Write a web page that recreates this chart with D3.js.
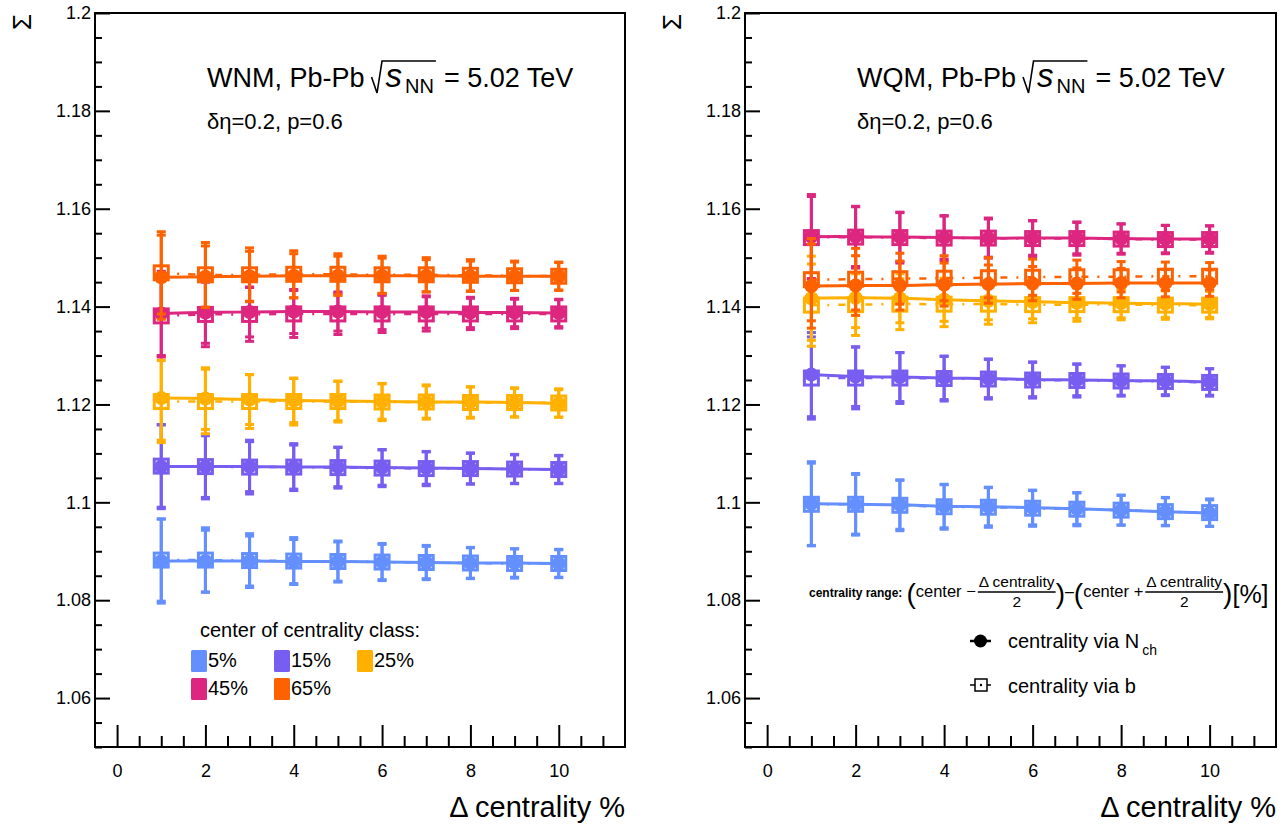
<!DOCTYPE html>
<html>
<head>
<meta charset="utf-8">
<title>Sigma vs delta centrality</title>
<script src="https://cdn.jsdelivr.net/npm/d3@7"></script>
<style>
  body { margin: 0; background: #fff; }
  svg { font-family: "Liberation Sans", Arial, Helvetica, sans-serif; }
</style>
</head>
<body>
<svg id="chart" width="1286" height="825"></svg>
<script>
// width of the centrality class, %
const deltaCentrality = [1, 2, 3, 4, 5, 6, 7, 8, 9, 10];
const centerLabels = ["5%", "15%", "25%", "45%", "65%"];
const centerColors = ["#648fff", "#785ef0", "#ffb000", "#dc267f", "#fe6100"];
const yMajorTicks = [1.06, 1.08, 1.1, 1.12, 1.14, 1.16, 1.18, 1.2];
const xMajorTicks = [0, 2, 4, 6, 8, 10];

// WNM: centrality via Nch and via b
const wnmNch5  = [1.0880, 1.0880, 1.0880, 1.0879, 1.0879, 1.0878, 1.0877, 1.0876, 1.0876, 1.0875];
const wnmB5    = [1.0882, 1.0882, 1.0881, 1.0880, 1.0879, 1.0878, 1.0877, 1.0876, 1.0875, 1.0875];
const wnmNch15 = [1.1073, 1.1073, 1.1073, 1.1072, 1.1072, 1.1071, 1.1070, 1.1069, 1.1068, 1.1067];
const wnmB15   = [1.1074, 1.1073, 1.1072, 1.1072, 1.1071, 1.1070, 1.1069, 1.1069, 1.1068, 1.1067];
const wnmNch25 = [1.1213, 1.1212, 1.1210, 1.1208, 1.1207, 1.1206, 1.1205, 1.1205, 1.1204, 1.1202];
const wnmB25   = [1.1206, 1.1206, 1.1206, 1.1206, 1.1206, 1.1205, 1.1205, 1.1204, 1.1204, 1.1203];
const wnmNch45 = [1.1386, 1.1388, 1.1389, 1.1390, 1.1390, 1.1389, 1.1389, 1.1388, 1.1388, 1.1387];
const wnmB45   = [1.1381, 1.1384, 1.1384, 1.1385, 1.1385, 1.1385, 1.1385, 1.1385, 1.1385, 1.1385];
const wnmNch65 = [1.1460, 1.1461, 1.1462, 1.1463, 1.1463, 1.1463, 1.1463, 1.1462, 1.1462, 1.1462];
const wnmB65   = [1.1469, 1.1465, 1.1465, 1.1466, 1.1466, 1.1465, 1.1465, 1.1464, 1.1463, 1.1462];
const wnmErrNch = [0.0086, 0.0063, 0.0051, 0.0045, 0.0040, 0.0036, 0.0033, 0.0031, 0.0029, 0.0028];
const wnmErrB   = [0.0084, 0.0066, 0.0055, 0.0048, 0.0042, 0.0038, 0.0035, 0.0032, 0.0030, 0.0029];

// WQM: centrality via Nch and via b
const wqmNch5  = [1.0997, 1.0996, 1.0995, 1.0992, 1.0991, 1.0989, 1.0987, 1.0984, 1.0981, 1.0978];
const wqmB5    = [1.0996, 1.0996, 1.0994, 1.0991, 1.0990, 1.0988, 1.0986, 1.0984, 1.0981, 1.0979];
const wqmNch15 = [1.1261, 1.1257, 1.1256, 1.1254, 1.1253, 1.1251, 1.1250, 1.1249, 1.1248, 1.1246];
const wqmB15   = [1.1254, 1.1254, 1.1254, 1.1253, 1.1252, 1.1250, 1.1249, 1.1248, 1.1247, 1.1245];
const wqmNch25 = [1.1417, 1.1418, 1.1417, 1.1414, 1.1412, 1.1410, 1.1408, 1.1407, 1.1406, 1.1405];
const wqmB25   = [1.1403, 1.1404, 1.1405, 1.1405, 1.1405, 1.1404, 1.1404, 1.1404, 1.1403, 1.1403];
const wqmNch45 = [1.1543, 1.1543, 1.1542, 1.1541, 1.1540, 1.1540, 1.1540, 1.1539, 1.1538, 1.1538];
const wqmB45   = [1.1541, 1.1542, 1.1541, 1.1540, 1.1540, 1.1539, 1.1539, 1.1538, 1.1537, 1.1537];
const wqmNch65 = [1.1442, 1.1443, 1.1443, 1.1445, 1.1446, 1.1447, 1.1447, 1.1448, 1.1448, 1.1448];
const wqmB65   = [1.1455, 1.1456, 1.1457, 1.1458, 1.1459, 1.1460, 1.1461, 1.1461, 1.1462, 1.1462];
const wqmErrNch = [0.0086, 0.0061, 0.0050, 0.0044, 0.0039, 0.0035, 0.0032, 0.0030, 0.0028, 0.0027];
const wqmErrB   = [0.0084, 0.0063, 0.0052, 0.0046, 0.0041, 0.0037, 0.0034, 0.0031, 0.0029, 0.0028];

const svg = d3.select("#chart");
const yTop = 13, yBottom = 747;
const y = d3.scaleLinear().domain([1.05, 1.2]).range([yBottom, yTop]);

function styleAxis(sel, fontSize) {
  sel.attr("font-family", null).attr("font-size", fontSize);
  sel.select(".domain").remove();
  sel.selectAll(".tick line").attr("stroke", "#000").attr("stroke-width", 2);
  sel.selectAll(".tick text").attr("fill", "#000");
}

function drawPanel(left, right, model, nch, b, errNch, errB) {
  const x = d3.scaleLinear().domain([-0.5, 11.5]).range([left, right]);
  const g = svg.append("g");

  // y axis, ticks pointing inward
  const yMinor = d3.range(1.05, 1.2001, 0.005)
    .filter(v => !yMajorTicks.some(t => Math.abs(t - v) < 1e-6));
  g.append("g").attr("transform", `translate(${left},0)`)
    .call(d3.axisLeft(y).tickValues(yMinor).tickSize(-7).tickFormat(""))
    .call(s => styleAxis(s, 18));
  g.append("g").attr("transform", `translate(${left},0)`)
    .call(d3.axisLeft(y).tickValues(yMajorTicks).tickSize(-15).tickPadding(4)
      .tickFormat(d => +d.toFixed(2)))
    .call(s => styleAxis(s, 18));

  // x axis
  const xMinor = d3.range(0.5, 11.5, 0.5).filter(v => v % 2 !== 0);
  g.append("g").attr("transform", `translate(0,${yBottom})`)
    .call(d3.axisBottom(x).tickValues(xMinor).tickSize(-11).tickFormat(""))
    .call(s => styleAxis(s, 18));
  g.append("g").attr("transform", `translate(0,${yBottom})`)
    .call(d3.axisBottom(x).tickValues(xMajorTicks).tickSize(-22).tickPadding(17))
    .call(s => styleAxis(s, 18));

  g.append("rect")
    .attr("x", left).attr("y", yTop)
    .attr("width", right - left).attr("height", yBottom - yTop)
    .attr("fill", "none").attr("stroke", "#000").attr("stroke-width", 2);

  // axis titles
  g.append("text")
    .attr("x", right).attr("y", 817)
    .attr("text-anchor", "end").attr("font-size", 29)
    .text("\u0394 centrality %");
  g.append("text")
    .attr("transform", `translate(${left - 73},22) rotate(-90)`)
    .attr("text-anchor", "middle").attr("dominant-baseline", "central")
    .attr("font-size", 26)
    .text("\u03a3");

  // title
  const tx = left + 112, tBase = 87;
  const t1 = g.append("text").attr("x", tx).attr("y", tBase)
    .attr("font-size", 27).text(`${model}, Pb-Pb`);
  const sx = tx + t1.node().getComputedTextLength() + 7;
  const ts = g.append("text").attr("x", sx + 14).attr("y", tBase)
    .attr("font-size", 33).attr("font-style", "italic").text("s");
  const nnX = sx + 14 + ts.node().getComputedTextLength() + 3;
  const tnn = g.append("text").attr("x", nnX).attr("y", tBase + 6)
    .attr("font-size", 20).text("NN");
  const barEnd = nnX + tnn.node().getComputedTextLength() + 2;
  g.append("path")
    .attr("d", `M${sx},${tBase - 10} L${sx + 5.5},${tBase + 6} L${sx + 10.5},${tBase - 26} H${barEnd}`)
    .attr("fill", "none").attr("stroke", "#000").attr("stroke-width", 1.6);
  g.append("text").attr("x", barEnd + 8).attr("y", tBase)
    .attr("font-size", 27).text("= 5.02 TeV");
  g.append("text").attr("x", tx).attr("y", 129)
    .attr("font-size", 22).text("\u03b4\u03b7=0.2, p=0.6");

  // data
  const line = d3.line()
    .x((d, j) => x(deltaCentrality[j]))
    .y(d => y(d))
    .curve(d3.curveCatmullRom);

  const plot = g.append("g");
  nch.forEach((vals, i) => {
    const color = centerColors[i];
    const sets = [
      { vals: nch[i], err: errNch },
      { vals: b[i], err: errB }
    ];
    sets.forEach(s => {
      const eb = plot.append("g").attr("stroke", color).attr("stroke-width", 3);
      s.vals.forEach((v, j) => {
        const xp = x(deltaCentrality[j]);
        const lo = y(v - s.err[j]), hi = y(v + s.err[j]);
        eb.append("line").attr("x1", xp).attr("x2", xp).attr("y1", lo).attr("y2", hi);
        eb.append("line").attr("x1", xp - 4.5).attr("x2", xp + 4.5).attr("y1", lo).attr("y2", lo);
        eb.append("line").attr("x1", xp - 4.5).attr("x2", xp + 4.5).attr("y1", hi).attr("y2", hi);
      });
    });
    plot.append("path").datum(nch[i])
      .attr("d", line).attr("fill", "none")
      .attr("stroke", color).attr("stroke-width", 3);
    plot.append("path").datum(b[i])
      .attr("d", line).attr("fill", "none")
      .attr("stroke", color).attr("stroke-width", 2.5)
      .attr("stroke-dasharray", "7,9,2,9");
    plot.append("g").selectAll("circle").data(nch[i]).join("circle")
      .attr("cx", (d, j) => x(deltaCentrality[j])).attr("cy", d => y(d))
      .attr("r", 7).attr("fill", color);
    plot.append("g").selectAll("rect").data(b[i]).join("rect")
      .attr("x", (d, j) => x(deltaCentrality[j]) - 7).attr("y", d => y(d) - 7)
      .attr("width", 14).attr("height", 14)
      .attr("fill", "none").attr("stroke", color).attr("stroke-width", 3);
  });
  return g;
}

drawPanel(95, 625, "WNM",
  [wnmNch5, wnmNch15, wnmNch25, wnmNch45, wnmNch65],
  [wnmB5, wnmB15, wnmB25, wnmB45, wnmB65],
  wnmErrNch, wnmErrB);
drawPanel(745, 1276, "WQM",
  [wqmNch5, wqmNch15, wqmNch25, wqmNch45, wqmNch65],
  [wqmB5, wqmB15, wqmB25, wqmB45, wqmB65],
  wqmErrNch, wqmErrB);

// legend: center of centrality class
const leg = svg.append("g");
leg.append("text").attr("x", 200).attr("y", 637).attr("font-size", 20)
  .text("center of centrality class:");
const legCols = [191, 274, 357];
centerLabels.forEach((lab, i) => {
  const lx = legCols[i % 3], ly = i < 3 ? 650 : 678;
  leg.append("rect").attr("x", lx).attr("y", ly).attr("width", 16).attr("height", 22)
    .attr("rx", 1.5).attr("fill", centerColors[i]);
  leg.append("text").attr("x", lx + 17).attr("y", ly + 17).attr("font-size", 20).text(lab);
});

// legend: method markers
const mleg = svg.append("g");
mleg.append("line").attr("x1", 970).attr("x2", 991).attr("y1", 641).attr("y2", 641)
  .attr("stroke", "#000").attr("stroke-width", 2.5);
mleg.append("circle").attr("cx", 980.5).attr("cy", 641).attr("r", 6.5).attr("fill", "#000");
mleg.append("text").attr("x", 1008).attr("y", 648).attr("font-size", 20)
  .text("centrality via N")
  .append("tspan").attr("dx", 3).attr("dy", 7).attr("font-size", 14).text("ch");
mleg.append("line").attr("x1", 970).attr("x2", 991).attr("y1", 685).attr("y2", 685)
  .attr("stroke", "#000").attr("stroke-width", 1.5).attr("stroke-dasharray", "5,12,5");
mleg.append("rect").attr("x", 975).attr("y", 679).attr("width", 12).attr("height", 12)
  .attr("fill", "#fff").attr("stroke", "#000").attr("stroke-width", 1.5);
mleg.append("circle").attr("cx", 981).attr("cy", 685).attr("r", 1.2).attr("fill", "#000");
mleg.append("text").attr("x", 1008).attr("y", 693).attr("font-size", 20)
  .text("centrality via b");

// centrality range note
const note = svg.append("g");
let cx = 809;
const base = 597;
function put(str, size, dy, extra) {
  const t = note.append("text").attr("x", cx).attr("y", base + dy)
    .attr("font-size", size).text(str);
  if (extra) extra(t);
  cx += t.node().getComputedTextLength();
  return t;
}
function frac(num, den, size) {
  const tn = note.append("text").attr("y", base - 10).attr("font-size", size).text(num);
  const w = tn.node().getComputedTextLength();
  tn.attr("x", cx + 1);
  note.append("line").attr("x1", cx).attr("x2", cx + w + 2)
    .attr("y1", base - 5).attr("y2", base - 5)
    .attr("stroke", "#000").attr("stroke-width", 1.3);
  note.append("text").attr("x", cx + 1 + w / 2).attr("y", base + 10)
    .attr("text-anchor", "middle").attr("font-size", size).text(den);
  cx += w + 2;
}
put("centrality range:", 12, 0, t => t.attr("font-weight", "bold"));
cx += 4;
put("(", 28, 6);
put("center \u2212", 16.5, 0);
cx += 2;
frac("\u0394 centrality", "2", 15.5);
put(")", 28, 6);
put("\u2013", 16, 0);
put("(", 28, 6);
put("center +", 16.5, 0);
cx += 2;
frac("\u0394 centrality", "2", 15.5);
put(")", 28, 6);
put("[%]", 25, 6);
</script>
</body>
</html>
